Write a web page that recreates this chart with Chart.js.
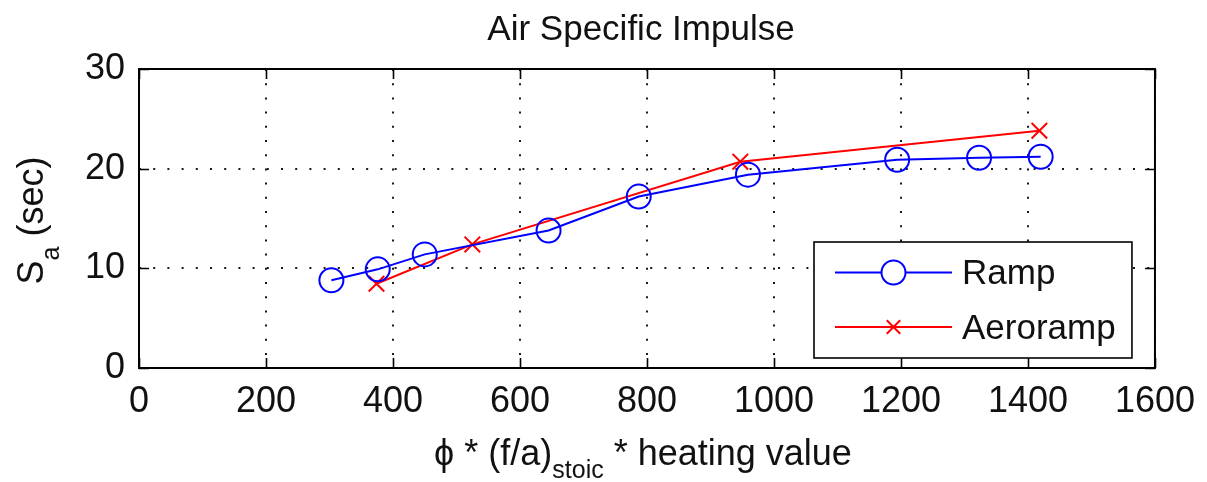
<!DOCTYPE html>
<html>
<head>
<meta charset="utf-8">
<title>Air Specific Impulse</title>
<script src="https://cdn.jsdelivr.net/npm/chart.js@4/dist/chart.umd.min.js"></script>
<style>
  html, body { margin: 0; padding: 0; background: #ffffff; }
  canvas { display: block; }
</style>
</head>
<body>
<canvas id="chart" width="1207" height="482"></canvas>
<script>
// Air specific impulse vs. phi * (f/a)stoic * heating value
const rampX = [303, 376, 450, 645, 787, 959, 1194, 1323, 1420];
const rampY = [8.8, 9.9, 11.4, 13.8, 17.2, 19.4, 20.9, 21.1, 21.2];
const aerorampX = [374, 525, 947, 1418];
const aerorampY = [8.45, 12.4, 20.7, 23.8];

const xTicks = [0, 200, 400, 600, 800, 1000, 1200, 1400, 1600];
const yTicks = [0, 10, 20, 30];

const seriesNames = ['Ramp', 'Aeroramp'];
const titleText = 'Air Specific Impulse';

const FONT = '"Liberation Sans", Arial, sans-serif';
const INK = '#111111';
const W = 1207, H = 482;

function toPoints(xs, ys) {
  return xs.map((x, i) => ({ x: x, y: ys[i] }));
}

// Draws a run of [text, isSubscript] pieces starting at (0,0) in the current transform
function drawRich(ctx, pieces, mainSize, subSize, subShift) {
  let w = 0;
  pieces.forEach(p => {
    ctx.font = (p[1] ? subSize : mainSize) + 'px ' + FONT;
    w += ctx.measureText(p[0]).width;
  });
  return w;
}
function fillRich(ctx, pieces, x0, y0, mainSize, subSize, subShift) {
  let x = x0;
  pieces.forEach(p => {
    ctx.font = (p[1] ? subSize : mainSize) + 'px ' + FONT;
    ctx.fillText(p[0], x, y0 + (p[1] ? subShift : 0));
    x += ctx.measureText(p[0]).width;
  });
}

// Box frame with inward ticks on all four sides (drawn over the grid)
const framePlugin = {
  id: 'frame',
  afterDatasetsDraw(chart) {
    const ctx = chart.ctx;
    const a = chart.chartArea;
    const sx = chart.scales.x, sy = chart.scales.y;
    const tl = 10;
    ctx.save();
    ctx.strokeStyle = '#000000';
    ctx.lineWidth = 1.6;
    ctx.beginPath();
    sx.ticks.forEach(t => {
      const px = Math.round(sx.getPixelForValue(t.value)) + 0.5;
      ctx.moveTo(px, a.bottom); ctx.lineTo(px, a.bottom - tl);
      ctx.moveTo(px, a.top); ctx.lineTo(px, a.top + tl);
    });
    sy.ticks.forEach(t => {
      const py = Math.round(sy.getPixelForValue(t.value)) + 0.5;
      ctx.moveTo(a.left, py); ctx.lineTo(a.left + tl, py);
      ctx.moveTo(a.right, py); ctx.lineTo(a.right - tl, py);
    });
    ctx.stroke();
    ctx.lineWidth = 2;
    ctx.strokeRect(a.left, a.top, a.right - a.left, a.bottom - a.top);
    ctx.restore();
  }
};

// Title, axis labels with subscripts, and the boxed legend
const labelsPlugin = {
  id: 'labels',
  afterDraw(chart) {
    const ctx = chart.ctx;
    const a = chart.chartArea;
    ctx.save();
    ctx.fillStyle = INK;
    ctx.textBaseline = 'alphabetic';
    ctx.textAlign = 'left';

    // title
    ctx.font = '35px ' + FONT;
    const tw = ctx.measureText(titleText).width;
    ctx.fillText(titleText, 641 - tw / 2, 40);

    // x axis label
    const xl = [['\u03D5 * (f/a)', false], ['stoic', true], [' * heating value', false]];
    const xw = drawRich(ctx, xl, 36, 25, 13);
    fillRich(ctx, xl, 643 - xw / 2, 465, 36, 25, 13);

    // y axis label (rotated)
    const yl = [['S', false], ['a', true], [' (sec)', false]];
    const yw = drawRich(ctx, yl, 36, 25, 16);
    ctx.save();
    ctx.translate(43, (a.top + a.bottom) / 2 + yw / 2 + 2);
    ctx.rotate(-Math.PI / 2);
    fillRich(ctx, yl, 0, 0, 36, 25, 16);
    ctx.restore();

    // legend box
    const lg = { left: a.right - 23, top: a.top + 173, right: a.right - 23, bottom: a.bottom - 10 };
    lg.left = 814;
    ctx.fillStyle = '#ffffff';
    ctx.fillRect(lg.left, lg.top, lg.right - lg.left, lg.bottom - lg.top);
    ctx.strokeStyle = '#000000';
    ctx.lineWidth = 1.6;
    ctx.strokeRect(lg.left, lg.top, lg.right - lg.left, lg.bottom - lg.top);

    const rows = [lg.top + 30.5, lg.top + 85];
    chart.data.datasets.forEach((ds, i) => {
      const y = rows[i];
      const x1 = lg.left + 21, x2 = lg.left + 138, xm = (x1 + x2) / 2;
      ctx.strokeStyle = ds.borderColor;
      ctx.lineWidth = ds.borderWidth;
      ctx.beginPath();
      ctx.moveTo(x1, y); ctx.lineTo(x2, y);
      ctx.stroke();
      Chart.helpers.drawPoint(ctx, {
        pointStyle: ds.pointStyle,
        radius: i === 0 ? ds.pointRadius : 9.5,
        borderWidth: ds.pointBorderWidth,
        rotation: 0
      }, xm, y);
      ctx.fillStyle = INK;
      ctx.font = '35px ' + FONT;
      ctx.textBaseline = 'middle';
      ctx.fillText(ds.label, lg.left + 148, y + 2);
    });
    ctx.restore();
  }
};

const gridStyle = {
  color: '#1a1a1a',
  lineWidth: 2,
  drawTicks: false
};

new Chart(document.getElementById('chart'), {
  type: 'line',
  data: {
    datasets: [
      {
        label: seriesNames[0],
        data: toPoints(rampX, rampY),
        borderColor: '#0000ff',
        backgroundColor: 'rgba(0,0,0,0)',
        borderWidth: 2,
        pointStyle: 'circle',
        pointRadius: 12,
        pointBorderWidth: 2,
        pointBorderColor: '#0000ff',
        pointBackgroundColor: 'rgba(0,0,0,0)',
        tension: 0
      },
      {
        label: seriesNames[1],
        data: toPoints(aerorampX, aerorampY),
        borderColor: '#ff0000',
        backgroundColor: 'rgba(0,0,0,0)',
        borderWidth: 2,
        pointStyle: 'crossRot',
        pointRadius: 11,
        pointBorderWidth: 2,
        pointBorderColor: '#ff0000',
        tension: 0
      }
    ]
  },
  options: {
    responsive: false,
    animation: false,
    events: [],
    layout: { padding: { top: 69, right: 49, left: 0, bottom: 0 } },
    plugins: {
      legend: { display: false },
      title: { display: false },
      tooltip: { enabled: false }
    },
    scales: {
      x: {
        type: 'linear',
        min: xTicks[0],
        max: xTicks[xTicks.length - 1],
        afterBuildTicks: s => { s.ticks = xTicks.map(v => ({ value: v })); },
        afterFit: s => { s.height = H - 368; },
        ticks: {
          color: INK,
          font: { family: FONT, size: 36 },
          padding: 12,
          maxRotation: 0,
          autoSkip: false,
          callback: (v) => String(v)
        },
        grid: gridStyle,
        border: { display: false, dash: [2, 12.2] }
      },
      y: {
        type: 'linear',
        min: yTicks[0],
        max: yTicks[yTicks.length - 1],
        afterBuildTicks: s => { s.ticks = yTicks.map(v => ({ value: v })); },
        afterFit: s => { s.width = 139; },
        ticks: {
          color: INK,
          font: { family: FONT, size: 36 },
          padding: 14,
          autoSkip: false,
          callback: (v) => String(v)
        },
        grid: gridStyle,
        border: { display: false, dash: [2, 12.2] }
      }
    }
  },
  plugins: [framePlugin, labelsPlugin]
});
</script>
</body>
</html>
